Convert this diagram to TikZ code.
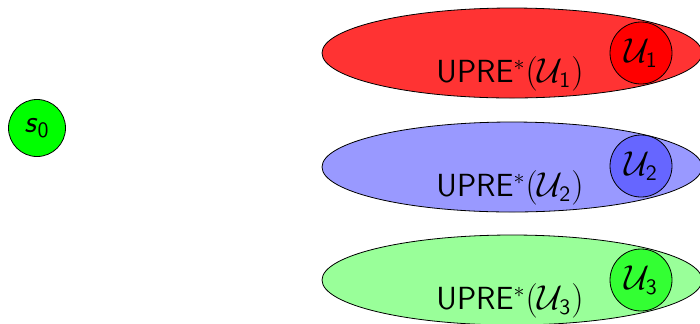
\documentclass[tikz,border=0pt]{standalone}
\usepackage{amsmath}
\usetikzlibrary{shapes.geometric}
\begin{document}
\begin{tikzpicture}[x=0.5pt,y=-0.5pt,
  every node/.style={font=\fontsize{16}{19}\selectfont\sffamily},
  region/.style={draw=black, ellipse, inner sep=0pt, minimum width=190pt, minimum height=45pt},
  target/.style={draw=black, circle, inner sep=0pt, minimum size=31pt},
  start/.style={draw=black, circle, inner sep=0pt, minimum size=28.5pt, fill=green}]
  \useasboundingbox (0,0) rectangle (700,323);
  \begin{scope}
    \clip (0,0) rectangle (700,323);
    % initial state
    \node[start] (s0) at (37,128) {\textsl{s}$_{\mathsf{0}}$};
    % upward-closed predecessor regions
    \node[region, fill=red!80]   (p1) at (512,53)  {};
    \node[region, fill=blue!40]  (p2) at (512,167) {};
    \node[region, fill=green!40] (p3) at (512,280) {};
    % target sets
    \node[target, fill=red]      (u1) at (641,53)  {$\mathcal{U}_{\mathsf{1}}$};
    \node[target, fill=blue!60]  (u2) at (641,166) {$\mathcal{U}_{\mathsf{2}}$};
    \node[target, fill=green!80] (u3) at (641,280) {$\mathcal{U}_{\mathsf{3}}$};
    % region labels
    \node (l1) at (510,74)  {UPRE$^*(\mathcal{U}_{\mathsf{1}})$};
    \node (l2) at (510,188) {UPRE$^*(\mathcal{U}_{\mathsf{2}})$};
    \node (l3) at (510,301) {UPRE$^*(\mathcal{U}_{\mathsf{3}})$};
  \end{scope}
\end{tikzpicture}
\end{document}
